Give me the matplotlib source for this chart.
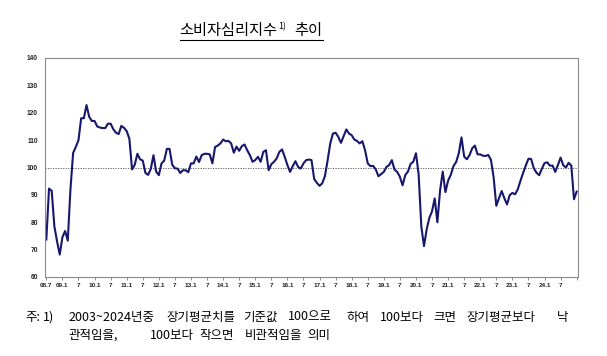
import matplotlib
matplotlib.use("Agg")
import matplotlib.pyplot as plt
from matplotlib.lines import Line2D
import numpy as np

# ---------- data: CCSI, monthly 2008.7 ~ 2025.1 ----------
ccsi = [
    73.7, 92.3, 91.5, 78.5, 73.0, 68.2,                     # 2008.7-12
    74.5, 76.8, 73.3, 92.0, 105.3, 107.5, 110.0, 118.0, 118.0, 122.8, 118.5, 117.0,  # 2009
    117.0, 115.0, 114.6, 114.4, 114.4, 116.0, 116.0, 114.0, 112.7, 112.2, 115.2, 114.5,  # 2010
    113.3, 110.5, 99.3, 101.0, 105.0, 103.0, 102.5, 98.0, 97.3, 99.5, 104.5, 98.5,  # 2011
    97.2, 101.5, 102.5, 106.8, 106.8, 101.0, 99.7, 99.6, 98.0, 99.0, 99.0, 98.3,   # 2012
    101.5, 101.5, 104.0, 102.0, 104.5, 105.0, 105.0, 104.8, 101.5, 107.5, 108.0, 108.8,  # 2013
    110.2, 109.6, 109.7, 108.8, 105.4, 107.6, 106.1, 107.8, 108.4, 106.3, 104.5, 102.1,  # 2014
    102.7, 103.9, 102.1, 105.7, 106.3, 99.0, 101.2, 102.1, 103.3, 105.7, 106.6, 103.9,  # 2015
    100.9, 98.4, 100.5, 102.3, 100.2, 99.6, 101.5, 102.7, 102.9, 102.7, 95.8, 94.4,  # 2016
    93.3, 94.2, 96.8, 102.5, 108.8, 112.4, 112.7, 111.2, 109.0, 111.4, 113.9, 112.4,  # 2017
    111.8, 110.2, 109.7, 108.8, 109.6, 106.3, 101.5, 100.5, 100.6, 99.3, 96.8, 97.6,  # 2018
    98.4, 100.2, 100.9, 102.7, 99.2, 98.4, 96.6, 93.5, 97.2, 98.5, 101.3, 102.1,   # 2019
    105.2, 97.5, 78.4, 71.3, 77.4, 81.6, 84.0, 88.7, 80.0, 91.6, 98.5, 91.0,      # 2020
    95.2, 97.3, 100.5, 102.0, 105.2, 111.0, 104.0, 103.0, 104.5, 107.0, 108.0, 104.8,  # 2021
    104.8, 104.3, 104.2, 104.6, 102.8, 96.4, 86.0, 88.8, 91.4, 88.8, 86.5, 89.9,  # 2022
    90.7, 90.2, 92.0, 95.1, 98.0, 100.7, 103.2, 103.1, 99.7, 98.1, 97.2, 99.5,    # 2023
    101.6, 101.9, 100.7, 100.7, 98.4, 100.9, 103.6, 100.8, 100.0, 101.7, 100.7, 88.4,  # 2024
    91.2,                                                    # 2025.1
]

x_tick_labels = ["08.7", "09.1", "7", "10.1", "7", "11.1", "7", "12.1", "7",
                 "13.1", "7", "14.1", "7", "15.1", "7", "16.1", "7", "17.1", "7",
                 "18.1", "7", "19.1", "7", "20.1", "7", "21.1", "7", "22.1", "7",
                 "23.1", "7", "24.1", "7", ""]
y_ticks = [60, 70, 80, 90, 100, 110, 120, 130, 140]

title_main = "소비자심리지수"
title_sup = "1)"
title_tail = "추이"

note_line1 = [("주:", 25), ("1)", 43), ("2003~2024년중", 68), ("장기평균치를", 166),
              ("기준값", 243), ("100으로", 288), ("하여", 346), ("100보다", 380),
              ("크면", 433), ("장기평균보다", 466), ("낙", 557)]
note_line2 = [("관적임을,", 68), ("100보다", 150), ("작으면", 199),
              ("비관적임을", 245), ("의미", 307)]

KFONT = ["Noto Sans CJK KR", "DejaVu Sans"]
W, H = 607, 356

# ---------- figure ----------
fig = plt.figure(figsize=(W / 100, H / 100), dpi=100)
ax = fig.add_axes([45 / W, 1 - 277 / H, 533 / W, 219 / H])

x = np.arange(len(ccsi))
ax.axhline(100, color="#555555", lw=0.6, ls=(0, (1.5, 1.5)), zorder=1)
ax.plot(x, ccsi, color="#17176e", lw=1.5, zorder=2)

ax.set_xlim(-0.5, len(ccsi) - 0.5)
ax.set_ylim(60, 140)
ax.set_yticks(y_ticks)
ax.set_yticklabels([str(v) for v in y_ticks], fontsize=4.8, fontweight="bold",
                   family="Liberation Sans", color="#222222")
ax.set_xticks(np.arange(0, len(ccsi), 6))
ax.set_xticklabels(x_tick_labels, fontsize=4.6, fontweight="bold",
                   family="Liberation Sans", color="#222222")
ax.tick_params(axis="y", length=0, pad=5)
ax.tick_params(axis="x", length=2.5, width=0.6, color="#777777", pad=1.5)
for s in ax.spines.values():
    s.set_color("#8a8a8a")
    s.set_linewidth(0.8)

# ---------- title with superscript + underline ----------
ty = 1 - 31 / H
t1 = fig.text(0, ty, title_main, fontsize=11, family=KFONT, weight="medium",
              va="center", ha="left")
t2 = fig.text(0, ty + 4 / H, title_sup, fontsize=6.5, family=KFONT, va="center", ha="left")
t3 = fig.text(0, ty, title_tail, fontsize=11, family=KFONT, weight="medium",
              va="center", ha="left")
r = fig.canvas.get_renderer()
w1 = t1.get_window_extent(r).width
w2 = t2.get_window_extent(r).width
w3 = t3.get_window_extent(r).width
gap = 8
total = w1 + 1 + w2 + gap + w3
x0 = 251 - total / 2
t1.set_x(x0 / W)
t2.set_x((x0 + w1 + 1) / W)
t3.set_x((x0 + w1 + 1 + w2 + gap) / W)
fig.add_artist(Line2D([x0 / W, (x0 + total) / W], [1 - 40 / H, 1 - 40 / H],
                      transform=fig.transFigure, color="black", lw=0.8))

# ---------- footnote ----------
for txt, px in note_line1:
    fig.text(px / W, 1 - 317 / H, txt, fontsize=9, family=KFONT, va="center", ha="left")
for txt, px in note_line2:
    fig.text(px / W, 1 - 335 / H, txt, fontsize=9, family=KFONT, va="center", ha="left")

fig.savefig("out.png", dpi=100)
